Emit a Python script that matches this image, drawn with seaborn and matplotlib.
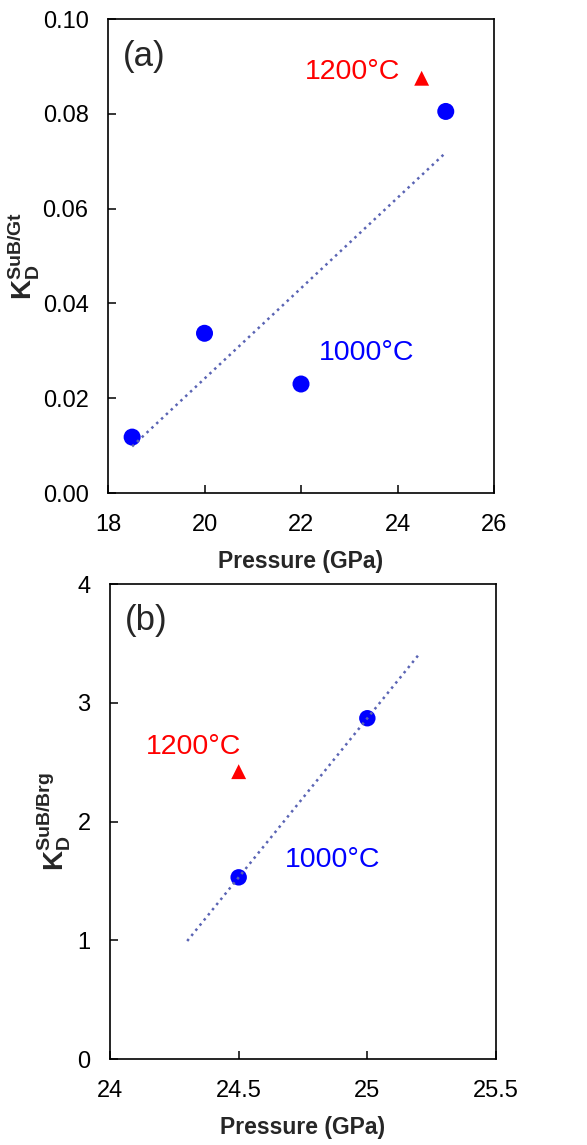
import numpy as np
import pandas as pd
import matplotlib
matplotlib.use("Agg")
import matplotlib.pyplot as plt
import seaborn as sns

# panel (a): SuB / garnet
p_gt_1000 = [18.5, 20.0, 22.0, 25.0]
kd_gt_1000 = [0.0118, 0.0337, 0.0230, 0.0805]
p_gt_1200 = [24.5]
kd_gt_1200 = [0.0875]

# panel (b): SuB / bridgmanite
p_brg_1000 = [24.5, 25.0]
kd_brg_1000 = [1.53, 2.87]
p_brg_1200 = [24.5]
kd_brg_1200 = [2.42]

sns.set_style("ticks")
plt.rcParams["font.family"] = ["Liberation Sans", "DejaVu Sans"]
plt.rcParams["mathtext.fontset"] = "custom"
plt.rcParams["mathtext.rm"] = "Liberation Sans"
plt.rcParams["mathtext.bf"] = "Liberation Sans:bold"

blue = "#0000ff"
red = "#ff0000"
trend = "#5a64b4"

fig = plt.figure(figsize=(5.87, 11.45), dpi=100)
ax1 = fig.add_axes([0.184, 0.5694, 0.6576, 0.414])
ax2 = fig.add_axes([0.1874, 0.0751, 0.6576, 0.4148])


def style_axis(ax):
    for s in ax.spines.values():
        s.set_visible(True)
        s.set_color("black")
        s.set_linewidth(1.2)
    ax.tick_params(direction="in", length=6, width=1.1, labelsize=17,
                   top=False, right=False, colors="black")
    ax.tick_params(axis="y", pad=14)
    ax.tick_params(axis="x", pad=15)
    ax.grid(False)


# (a)
df_a = pd.DataFrame({"P": p_gt_1000, "KD": kd_gt_1000})
sns.scatterplot(data=df_a, x="P", y="KD", ax=ax1, color=blue, s=150,
                edgecolor="none", zorder=2)
sns.scatterplot(x=p_gt_1200, y=kd_gt_1200, ax=ax1, color=red, marker="^",
                s=115, edgecolor="none", zorder=2)
k, b = np.polyfit(p_gt_1000, kd_gt_1000, 1)
xa = np.array([min(p_gt_1000), max(p_gt_1000)])
ax1.plot(xa, k * xa + b, ls=":", lw=1.8, color=trend, zorder=3)
ax1.set_xlim(18, 26)
ax1.set_ylim(0, 0.10)
ax1.set_xticks([18, 20, 22, 24, 26])
ax1.set_yticks([0.0, 0.02, 0.04, 0.06, 0.08, 0.10])
ax1.set_yticklabels(["0.00", "0.02", "0.04", "0.06", "0.08", "0.10"])
style_axis(ax1)
ax1.set_xlabel("Pressure (GPa)", fontsize=16.5, fontweight="bold", labelpad=10)
ax1.set_ylabel(r"$\mathbf{K_D^{SuB/Gt}}$", fontsize=20, labelpad=1)
ax1.text(0.039, 0.92, "(a)", transform=ax1.transAxes, fontsize=25,
         ha="left", va="center")
ax1.text(24.05, 0.0888, "1200°C", color=red, fontsize=20.5, ha="right",
         va="center")
ax1.text(22.38, 0.0295, "1000°C", color=blue, fontsize=20.5, ha="left",
         va="center")

# (b)
df_b = pd.DataFrame({"P": p_brg_1000, "KD": kd_brg_1000})
sns.scatterplot(data=df_b, x="P", y="KD", ax=ax2, color=blue, s=140,
                edgecolor="none", zorder=2)
sns.scatterplot(x=p_brg_1200, y=kd_brg_1200, ax=ax2, color=red, marker="^",
                s=115, edgecolor="none", zorder=2)
k2, b2 = np.polyfit(p_brg_1000, kd_brg_1000, 1)
xb = np.array([min(p_brg_1000) - 0.2, max(p_brg_1000) + 0.2])
ax2.plot(xb, k2 * xb + b2, ls=":", lw=1.8, color=trend, zorder=3)
ax2.set_xlim(24, 25.5)
ax2.set_ylim(0, 4)
ax2.set_xticks([24, 24.5, 25, 25.5])
ax2.set_xticklabels(["24", "24.5", "25", "25.5"])
ax2.set_yticks([0, 1, 2, 3, 4])
style_axis(ax2)
ax2.set_xlabel("Pressure (GPa)", fontsize=16.5, fontweight="bold", labelpad=10)
ax2.set_ylabel(r"$\mathbf{K_D^{SuB/Brg}}$", fontsize=20, labelpad=3)
ax2.text(0.039, 0.924, "(b)", transform=ax2.transAxes, fontsize=25,
         ha="left", va="center")
ax2.text(24.14, 2.63, "1200°C", color=red, fontsize=20.5, ha="left",
         va="center")
ax2.text(24.68, 1.68, "1000°C", color=blue, fontsize=20.5, ha="left",
         va="center")

fig.savefig("out.png", dpi=100)
